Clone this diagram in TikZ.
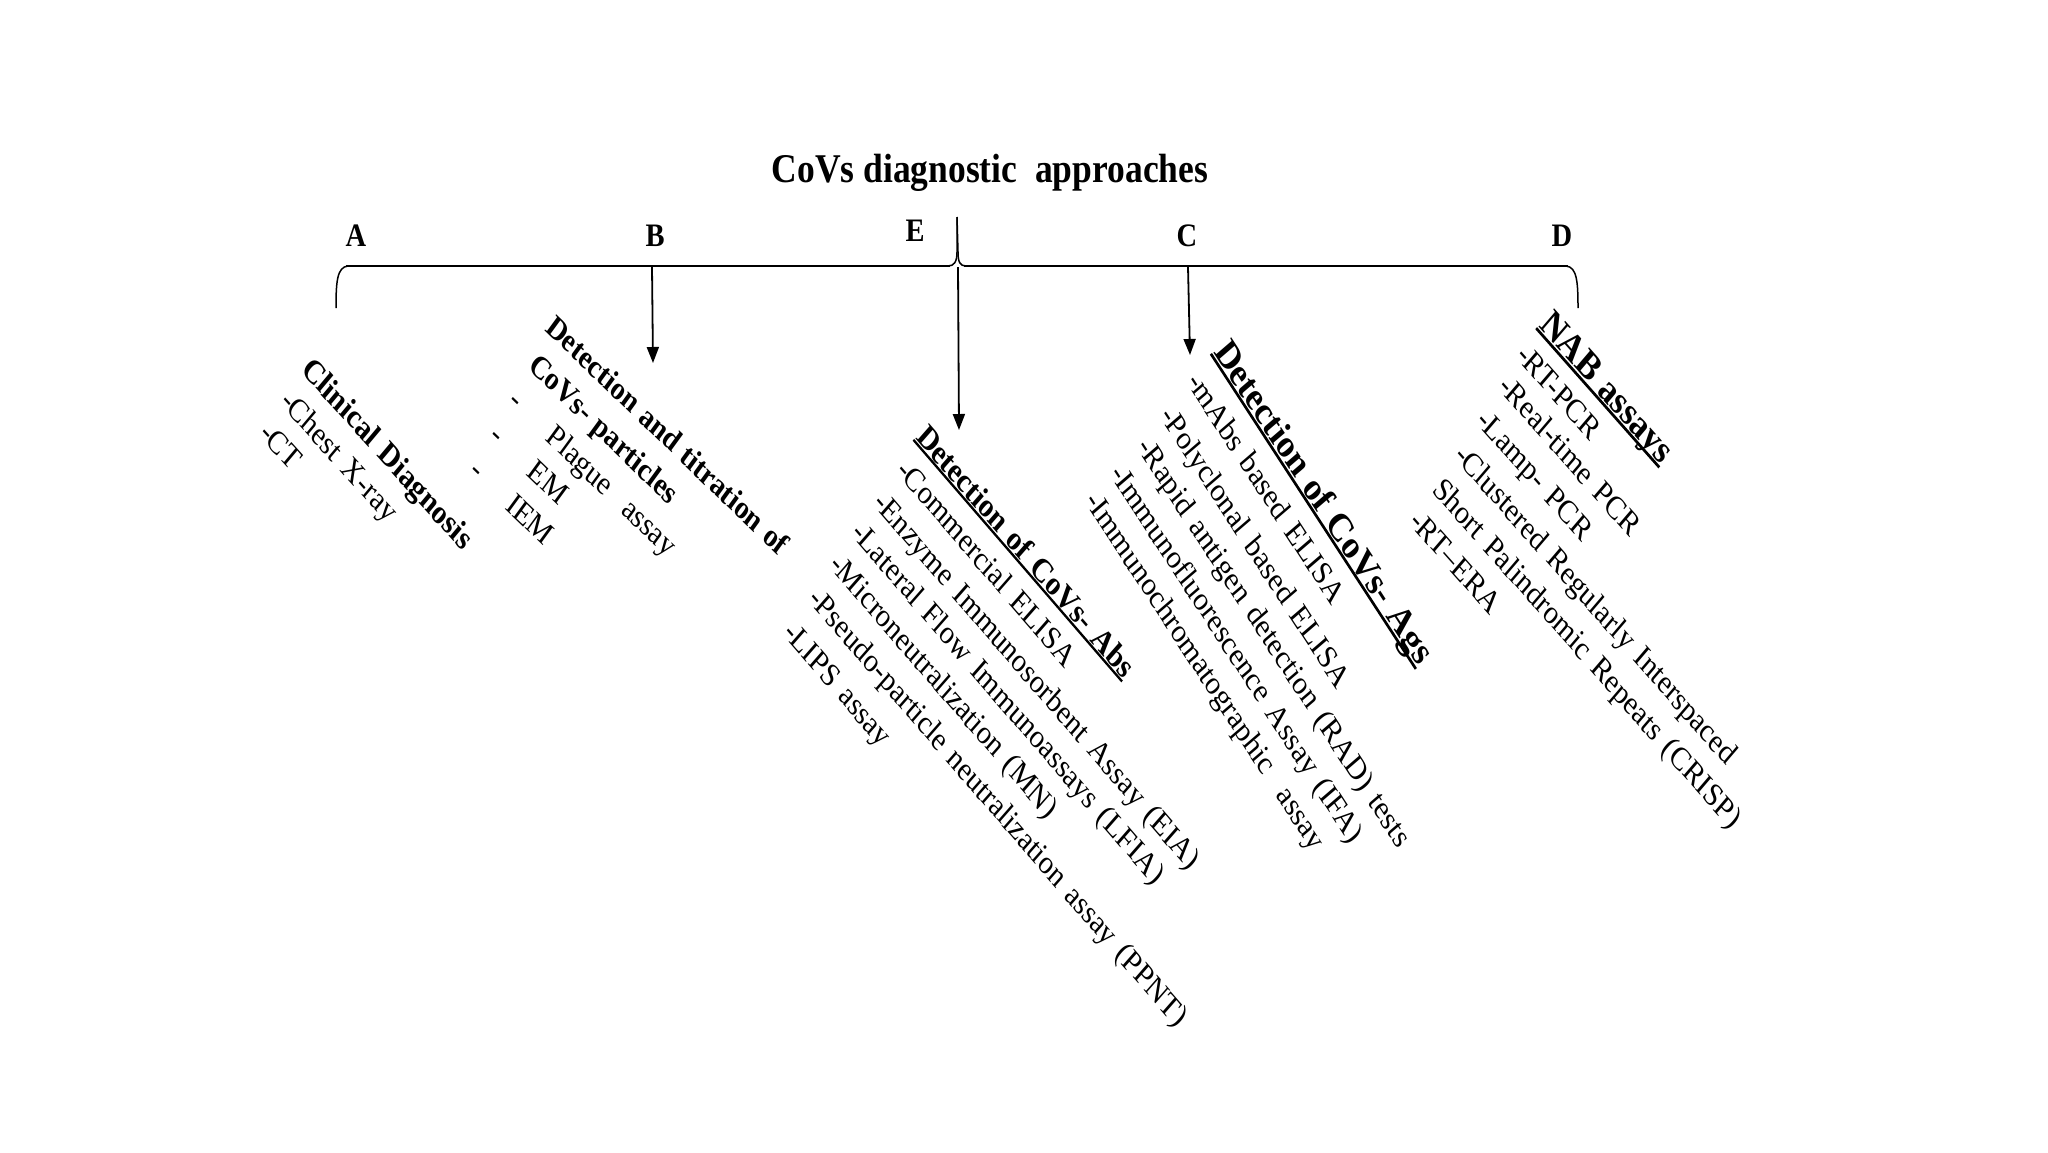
\documentclass[tikz,border=0pt]{standalone}
\usepackage{fontspec}
\setmainfont{Liberation Serif}
\usetikzlibrary{arrows.meta}
\newcommand\myul[1]{\setbox0\hbox{#1}\rlap{\rule[-0.115em]{\wd0}{0.075em}}\box0}
\newcommand\fitem{\fontsize{28.5}{34}\selectfont\spaceskip=0.36em plus 0.1em minus 0.05em\relax}
\newcommand\fhead{\fontsize{29}{34}\selectfont\bfseries\spaceskip=0.33em plus 0.1em minus 0.05em\relax}
\newcommand\fheadB{\fontsize{28}{34}\selectfont\bfseries\spaceskip=0.3em plus 0.1em minus 0.05em\relax}
\newcommand\fheadL{\fontsize{34}{40}\selectfont\bfseries\spaceskip=0.3em plus 0.1em minus 0.05em\relax}
\tikzset{
  txt/.style={anchor=base west, inner sep=0pt, outer sep=0pt, font=\fitem, yscale=1.15},
  hd/.style={font=\fhead},
  hdB/.style={font=\fheadB},
  hdL/.style={font=\fheadL},
  ga/.style={txt, rotate=-44},
  gb/.style={txt, rotate=-40},
  ge/.style={txt, rotate=-45.2},
  gc/.style={txt, rotate=-53.2},
  gd/.style={txt, rotate=-44.5},
  letter/.style={anchor=base, inner sep=0pt, font=\fontsize{28.5}{32}\selectfont\bfseries, yscale=1.15},
  titlestyle/.style={anchor=base, inner sep=0pt, font=\fontsize{35.5}{40}\selectfont\bfseries, yscale=1.15},
  hbar/.style={line width=2.8pt},
  braceend/.style={line width=1.5pt},
  arr/.style={line width=1.8pt, -{Triangle[length=16pt,width=12pt]}}
}
\begin{document}
\begin{tikzpicture}[x=1pt,y=-1pt]
\fill[white] (0,0) rectangle (2048,1152);
\useasboundingbox (0,0) rectangle (2048,1152);

% title and branch letters
\node[titlestyle] (title) at (990,182) {CoVs diagnostic\ \ approaches};
\node[letter] (la) at (356,246) {A};
\node[letter] (lb) at (655,246) {B};
\node[letter] (le) at (915,241) {E};
\node[letter] (lc) at (1187,246) {C};
\node[letter] (ld) at (1562,246) {D};

% brace
\coordinate (brL) at (336,308);
\coordinate (brR) at (1578,308);
\coordinate (tip) at (957,217);
\draw[hbar] (346,266) -- (950,266);
\draw[hbar] (964,266) -- (1568,266);
\draw[braceend] (brL) .. controls (336,282) and (337,267) .. (348,266);
\draw[braceend] (1566,266) .. controls (1577,267) and (1578,282) .. (brR);
\draw[braceend] (948,266) .. controls (954,266) and (957,262) .. (957,252) -- (tip);
\draw[braceend] (tip) -- (958,252) .. controls (958,262) and (960,266) .. (966,266);

% arrows
\coordinate (sB) at (652,267);
\coordinate (sE) at (958,267);
\coordinate (sC) at (1188,267);
\coordinate (tB) at (653,363);
\coordinate (tE) at (959,430);
\coordinate (tC) at (1190,355);
\draw[arr] (sB) -- (tB);
\draw[arr] (sE) -- (tE);
\draw[arr] (sC) -- (tC);

% group A
\node[ga,hd] (a0) at (300,371) {Clinical Diagnosis};
\node[ga] (a1) at (279,403) {-Chest X-ray};
\node[ga] (a2) at (258,435) {-CT};

% group B
\node[gb,hdB] (b0) at (544,330) {Detection and titration of};
\node[gb,hdB] (b1) at (527,368) {CoVs- particles};
\node[gb] (b2) at (507,403) {-\hspace{40pt}Plague\ \ assay};
\node[gb] (b3) at (488,438) {-\hspace{40pt}EM};
\node[gb] (b4) at (468,473) {-\hspace{38pt}IEM};

% group E
\node[ge,hd] (e0) at (915,438) {\myul{Detection of CoVs- Abs}};
\node[ge] (e1) at (895,472) {-Commercial ELISA};
\node[ge] (e2) at (872,504) {-Enzyme Immunosorbent Assay (EIA)};
\node[ge] (e3) at (850,534) {-Lateral Flow Immunoassays (LFIA)};
\node[ge] (e4) at (828,566) {-Microneutralization (MN)};
\node[ge] (e5) at (807,600) {-Pseudo-particle neutralization assay (PPNT)};
\node[ge] (e6) at (782,634) {-LIPS assay};

% group C
\node[gc,hdL] (c0) at (1213,352) {\myul{Detection of CoVs- Ags}};
\node[gc] (c1) at (1186,382) {-mAbs based ELISA};
\node[gc] (c2) at (1159,416) {-Polyclonal based ELISA};
\node[gc] (c3) at (1136,447) {-Rapid antigen detection (RAD) tests};
\node[gc] (c4) at (1109,474) {-Immunofluorescence Assay (IFA)};
\node[gc] (c5) at (1084,501) {-Immunochromatographic\ \ assay};

% group D
\node[gd,hdL] (d0) at (1538,326) {\myul{NAB assays}};
\node[gd] (d1) at (1515,357) {-RT-PCR};
\node[gd] (d2) at (1497,388) {-Real-time PCR};
\node[gd] (d3) at (1475,422) {-Lamp- PCR};
\node[gd] (d4) at (1453,457) {-Clustered Regularly Interspaced};
\node[gd] (d5) at (1431,491) {Short Palindromic Repeats (CRISP)};
\node[gd] (d6) at (1408,523) {-RT--ERA};
\end{tikzpicture}
\end{document}
